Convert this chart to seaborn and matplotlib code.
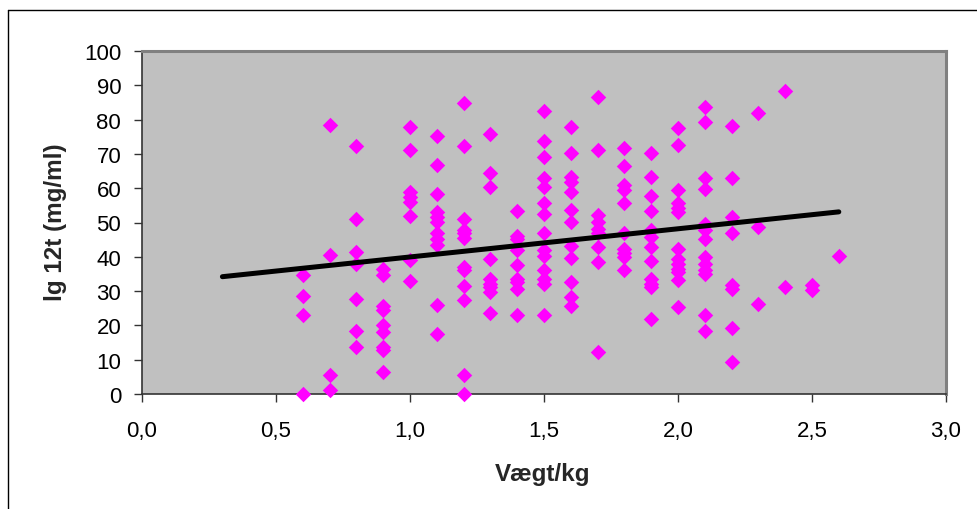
import matplotlib
matplotlib.use("Agg")
import matplotlib.pyplot as plt
import seaborn as sns
import pandas as pd
from matplotlib.lines import Line2D

# ---- data ----
w06 = [34.6, 28.6, 22.9, 0.0]
w07 = [78.5, 40.4, 5.4, 1.3]
w08 = [72.4, 51.1, 41.4, 38.0, 27.6, 18.4, 13.8]
w09 = [36.5, 34.6, 25.8, 24.4, 20.0, 18.0, 13.8, 12.7, 6.3]
w10 = [77.9, 71.1, 58.8, 57.5, 56.0, 51.8, 39.0, 32.9]
w11 = [75.3, 66.8, 58.4, 53.1, 51.7, 50.2, 46.8, 45.3, 43.4, 26.0, 17.5]
w12 = [84.8, 72.4, 51.0, 47.8, 46.8, 45.5, 37.0, 36.1, 31.5, 27.3, 5.4, 0.0]
w13 = [75.7, 64.3, 60.4, 39.3, 33.6, 32.2, 31.2, 29.7, 23.7]
w14 = [53.3, 46.1, 45.1, 41.9, 37.7, 33.6, 32.7, 30.5, 23.1]
w15 = [82.4, 73.8, 69.2, 62.9, 60.4, 55.6, 52.6, 46.8, 41.9, 40.3, 36.1, 33.6, 32.2, 23.1]
w16 = [77.7, 70.2, 63.4, 61.9, 59.0, 53.6, 50.2, 43.2, 39.7, 32.7, 28.3, 25.8]
w17 = [86.5, 71.1, 52.1, 50.2, 48.2, 46.8, 42.9, 38.5, 12.2]
w18 = [71.8, 66.6, 60.9, 59.4, 55.8, 46.8, 42.4, 41.2, 40.0, 36.1]
w19 = [70.4, 63.2, 57.7, 53.4, 47.8, 45.8, 42.9, 38.7, 33.6, 32.2, 31.2, 21.9]
w20 = [77.5, 72.6, 59.4, 55.6, 54.1, 53.1, 42.4, 39.5, 38.0, 36.5, 35.6, 33.1, 25.3]
w21 = [83.8, 79.4, 63.1, 59.9, 49.7, 47.8, 45.3, 40.0, 38.0, 36.1, 35.1, 22.9, 18.5]
w22 = [78.0, 62.9, 51.7, 46.8, 31.7, 30.7, 19.2, 9.4]
w23 = [81.9, 48.7, 26.3]
w24 = [88.2, 31.2]
w25 = [31.9, 30.2]
w26 = [40.3]

weights = [0.6, 0.7, 0.8, 0.9, 1.0, 1.1, 1.2, 1.3, 1.4, 1.5, 1.6, 1.7,
           1.8, 1.9, 2.0, 2.1, 2.2, 2.3, 2.4, 2.5, 2.6]
columns = [w06, w07, w08, w09, w10, w11, w12, w13, w14, w15, w16, w17,
           w18, w19, w20, w21, w22, w23, w24, w25, w26]

trend_x = [0.3, 2.6]
trend_y = [34.2, 53.1]

xticks = [0.0, 0.5, 1.0, 1.5, 2.0, 2.5, 3.0]
xtick_labels = ["0,0", "0,5", "1,0", "1,5", "2,0", "2,5", "3,0"]
yticks = [0, 10, 20, 30, 40, 50, 60, 70, 80, 90, 100]
ytick_labels = [str(v) for v in yticks]

x_label = "Vægt/kg"
y_label = "lg 12t (mg/ml)"

rows = [(wv, v) for wv, col in zip(weights, columns) for v in col]
df = pd.DataFrame(rows, columns=["weight", "value"])
trend = pd.DataFrame({"weight": trend_x, "value": trend_y})

# ---- plot ----
sns.set_theme(style="white")
plt.rcParams["font.family"] = ["Liberation Sans", "DejaVu Sans"]

fig = plt.figure(figsize=(9.77, 5.10), dpi=100)
ax = fig.add_axes([142 / 977, 115 / 510, 804 / 977, 343 / 510])
ax.set_facecolor("#C0C0C0")

sns.scatterplot(data=df, x="weight", y="value", marker="D", color="#FF00FF",
                s=62, linewidth=0, ax=ax, clip_on=False, zorder=3)
sns.lineplot(data=trend, x="weight", y="value", color="black", linewidth=3.6,
             ax=ax, zorder=4, solid_capstyle="round")

ax.set_xlim(0, 3.0)
ax.set_ylim(0, 100)
ax.set_xticks(xticks)
ax.set_xticklabels(xtick_labels)
ax.set_yticks(yticks)
ax.set_yticklabels(ytick_labels)
ax.tick_params(axis="both", direction="out", length=6, width=1, color="#333333",
               labelsize=16, labelcolor="black")
ax.tick_params(axis="x", pad=13, bottom=True)
ax.tick_params(axis="y", pad=9, left=True)

ax.set_xlabel(x_label, fontsize=17.5, fontweight="bold")
ax.set_ylabel(y_label, fontsize=17.5, fontweight="bold")
ax.xaxis.set_label_coords((543 - 142) / 804, (395 - 463) / 343)
ax.yaxis.set_label_coords((67 - 142) / 804, (395 - 222) / 343)

for side in ("top", "right"):
    ax.spines[side].set_color("#808080")
    ax.spines[side].set_linewidth(2.2)
for side in ("left", "bottom"):
    ax.spines[side].set_color("#333333")
    ax.spines[side].set_linewidth(1.2)
ax.grid(False)

# outer chart frame (partially visible)
fig.add_artist(Line2D([8 / 977, 1.0], [1 - 11 / 510, 1 - 11 / 510],
                      transform=fig.transFigure, color="black", linewidth=1))
fig.add_artist(Line2D([8 / 977, 8 / 977], [0.0, 1 - 11 / 510],
                      transform=fig.transFigure, color="black", linewidth=1))

fig.savefig("out.png", dpi=100)
